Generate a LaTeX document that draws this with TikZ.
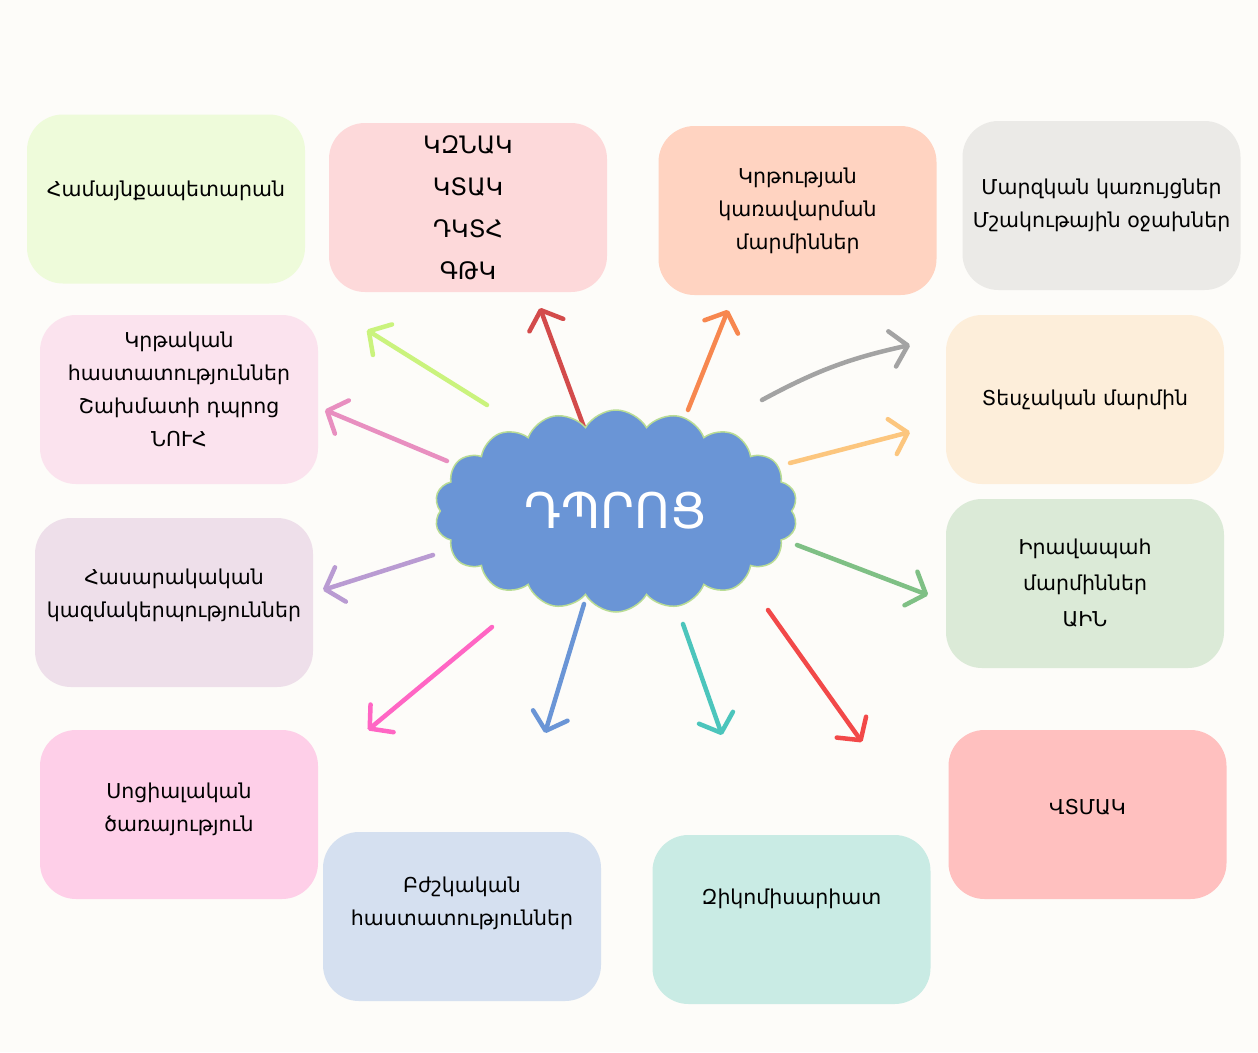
\documentclass[tikz,border=0pt]{standalone}
\usepackage{fontspec}
\setmainfont{DejaVu Sans}
\usetikzlibrary{arrows.meta,shapes.symbols}
\definecolor{paper}{HTML}{FDFCF9}
\definecolor{cloudblue}{HTML}{6A95D6}
\definecolor{cloudrim}{HTML}{B9DC95}
% box fills
\definecolor{cLime}{HTML}{EEFBDA}
\definecolor{cRose}{HTML}{FDD9DA}
\definecolor{cPeach}{HTML}{FFD3C1}
\definecolor{cGrey}{HTML}{EBEAE7}
\definecolor{cPink}{HTML}{FBE3EE}
\definecolor{cCream}{HTML}{FDEEDA}
\definecolor{cLilac}{HTML}{EEDFEA}
\definecolor{cMint}{HTML}{DBEAD7}
\definecolor{cCandy}{HTML}{FECFE8}
\definecolor{cSky}{HTML}{D5E0F0}
\definecolor{cAqua}{HTML}{C9EBE4}
\definecolor{cSalmon}{HTML}{FFC0BF}
% arrow colours
\definecolor{aLime}{HTML}{CAF37D}
\definecolor{aRed}{HTML}{D34B4B}
\definecolor{aOrange}{HTML}{F7874F}
\definecolor{aGrey}{HTML}{A3A3A3}
\definecolor{aGold}{HTML}{FCC67E}
\definecolor{aPink}{HTML}{E88FC0}
\definecolor{aPurple}{HTML}{B99BD2}
\definecolor{aGreen}{HTML}{7FC085}
\definecolor{aMagenta}{HTML}{FF66C4}
\definecolor{aBlue}{HTML}{6A95D6}
\definecolor{aTeal}{HTML}{4CC5BC}
\definecolor{aScarlet}{HTML}{F24949}

\begin{document}
\begin{tikzpicture}[x=1pt,y=-1pt,
 box/.style={rounded corners=36pt,align=center,minimum width=278pt,minimum height=169pt,inner sep=0pt,
  font=\fontsize{20.5}{33}\selectfont},
 lift/.style={text depth=#1},
 arr/.style={line width=4.5pt,line cap=round,-{Straight Barb[length=16pt,width=36pt,round]}}]
 \fill[paper] (0,0) rectangle (1258,1052);
 % outer boxes
 \node[box,fill=cLime,lift=20pt] (gov) at (166,199) {Համայնքապետարան};
 \node[box,fill=cRose,font=\fontsize{24}{42}\selectfont] (agency) at (468,207.5) {ԿԶՆԱԿ\\ԿՏԱԿ\\ԴԿՏՀ\\ԳԹԿ};
 \node[box,fill=cPeach] (edumgmt) at (797.5,210.5) {Կրթության\\կառավարման\\մարմիններ};
 \node[box,fill=cGrey] (sport) at (1101.5,205.5) {Մարզկան կառույցներ\\Մշակութային օջախներ};
 \node[box,fill=cPink,lift=20pt] (edu) at (179,399.5) {Կրթական\\հաստատություններ\\Շախմատի դպրոց\\ՆՈՒՀ};
 \node[box,fill=cCream] (inspect) at (1085,399.5) {Տեսչական մարմին};
 \node[box,fill=cLilac,lift=19pt] (ngo) at (174,602.5) {Հասարակական\\կազմակերպություններ};
 \node[box,fill=cMint,font=\fontsize{20.5}{36}\selectfont] (police) at (1085,583.5) {Իրավապահ\\մարմիններ\\ԱԻՆ};
 \node[box,fill=cCandy,lift=14pt] (social) at (179,814.5) {Սոցիալական\\ծառայություն};
 \node[box,fill=cSky,lift=30pt] (medical) at (462,916.5) {Բժշկական\\հաստատություններ};
 \node[box,fill=cAqua,lift=46pt] (military) at (791.5,919.5) {Զիկոմիսարիատ};
 \node[box,fill=cSalmon,lift=16pt] (vtmak) at (1087.5,814.5) {ՎՏՄԱԿ};
 % arrow ends
 \coordinate (s1) at (487,405);  \coordinate (t1) at (367,330);
 \coordinate (s2) at (585,430);  \coordinate (t2) at (540,308);
 \coordinate (s3) at (688,410);  \coordinate (t3) at (728,310);
 \coordinate (s4) at (762,400);  \coordinate (t4) at (910,345);
 \coordinate (s5) at (790,463);  \coordinate (t5) at (910,432);
 \coordinate (s6) at (447,461);  \coordinate (t6) at (325,410);
 \coordinate (s7) at (433,555);  \coordinate (t7) at (323,590);
 \coordinate (s8) at (797,545);  \coordinate (t8) at (928,595);
 \coordinate (s9) at (492,627);  \coordinate (t9) at (368,730);
 \coordinate (s10) at (584,604); \coordinate (t10) at (545,733);
 \coordinate (s11) at (683,624); \coordinate (t11) at (722,735);
 \coordinate (s12) at (768,610); \coordinate (t12) at (862,742);
 \draw[arr,aLime] (s1)--(t1);
 \draw[arr,aRed] (s2)--(t2);
 \draw[arr,aOrange] (s3)--(t3);
 \draw[arr,aGrey] (s4) to[bend left=8] (t4);
 \draw[arr,aGold] (s5)--(t5);
 \draw[arr,aPink] (s6)--(t6);
 \draw[arr,aPurple] (s7)--(t7);
 \draw[arr,aGreen] (s8)--(t8);
 \draw[arr,aMagenta] (s9)--(t9);
 \draw[arr,aBlue] (s10)--(t10);
 \draw[arr,aTeal] (s11)--(t11);
 \draw[arr,aScarlet] (s12)--(t12);
 % centre
 \node[cloud,cloud puffs=18,cloud puff arc=120,cloud ignores aspect,minimum width=363pt,minimum height=202pt,
  fill=cloudblue,draw=cloudrim,line width=1.5pt,text=white,font=\fontsize{49}{56}\selectfont] (school) at (616,511) {ԴՊՐՈՑ};
\end{tikzpicture}
\end{document}
